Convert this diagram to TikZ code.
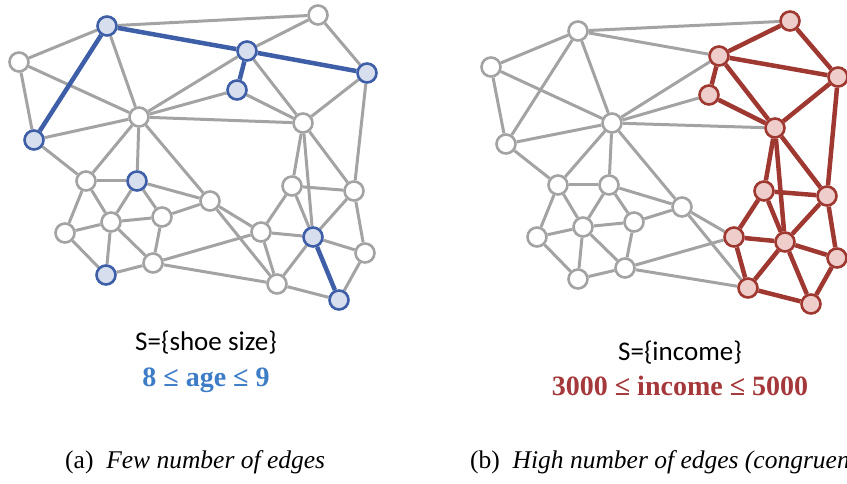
\documentclass[tikz,border=0pt]{standalone}
\usepackage{fontspec}
\setmainfont{Liberation Serif}
\newfontfamily\calib{Carlito}
\definecolor{edgegray}{HTML}{A3A3A3}
\definecolor{bluedge}{HTML}{3E5FA8}
\definecolor{bluefill}{HTML}{D7DFEF}
\definecolor{rededge}{HTML}{A03832}
\definecolor{redfill}{HTML}{EECDCA}
\definecolor{bluetext}{HTML}{3D7CC6}
\definecolor{redtext}{HTML}{A5383A}
\pgfdeclarelayer{bg}\pgfsetlayers{bg,main}
\begin{document}
\begin{tikzpicture}[x=1pt,y=-1pt,
 vtx/.style={circle,draw=edgegray,fill=white,line width=2.6pt,minimum size=19pt,inner sep=0pt},
 bvtx/.style={vtx,draw=bluedge,fill=bluefill},
 rvtx/.style={vtx,draw=rededge,fill=redfill},
 gedge/.style={draw=edgegray,line width=3pt},
 bedge/.style={draw=bluedge,line width=4.5pt},
 redgeline/.style={draw=rededge,line width=4.5pt}]
\useasboundingbox (0,0) rectangle (847,484);
% ---------- left graph ----------
\node[bvtx] (La) at (107,26) {};
\node[vtx]  (Lb) at (318,15) {};
\node[vtx]  (Lc) at (19,62) {};
\node[bvtx] (Ld) at (247,51) {};
\node[bvtx] (Le) at (367,73) {};
\node[bvtx] (Lf) at (237,90) {};
\node[vtx]  (Lg) at (139,117) {};
\node[vtx]  (Lh) at (303,123) {};
\node[bvtx] (Li) at (34,140) {};
\node[vtx]  (Lj) at (86,181) {};
\node[bvtx] (Lk) at (137,181) {};
\node[vtx]  (Ll) at (210,201) {};
\node[vtx]  (Lm) at (292,186) {};
\node[vtx]  (Ln) at (354,191) {};
\node[vtx]  (Lo) at (162,217) {};
\node[vtx]  (Lp) at (111,222) {};
\node[vtx]  (Lq) at (65,233) {};
\node[vtx]  (Lr) at (261,232) {};
\node[bvtx] (Ls) at (313,237) {};
\node[vtx]  (Lt) at (365,253) {};
\node[bvtx] (Lu) at (106,275) {};
\node[vtx]  (Lv) at (153,263) {};
\node[vtx]  (Lw) at (277,284) {};
\node[bvtx] (Lx) at (339,300) {};
% ---------- right graph ----------
\node[vtx]  (Ra) at (578,31) {};
\node[rvtx] (Rb) at (790,21) {};
\node[vtx]  (Rc) at (491,67) {};
\node[rvtx] (Rd) at (719,56) {};
\node[rvtx] (Re) at (838,77) {};
\node[rvtx] (Rf) at (709,95) {};
\node[vtx]  (Rg) at (612,123) {};
\node[rvtx] (Rh) at (775,128) {};
\node[vtx]  (Ri) at (506,144) {};
\node[vtx]  (Rj) at (558,185) {};
\node[vtx]  (Rk) at (609,185) {};
\node[vtx]  (Rl) at (682,207) {};
\node[rvtx] (Rm) at (764,191) {};
\node[rvtx] (Rn) at (827,196) {};
\node[vtx]  (Ro) at (634,222) {};
\node[vtx]  (Rp) at (583,227) {};
\node[vtx]  (Rq) at (537,237) {};
\node[rvtx] (Rr) at (734,237) {};
\node[rvtx] (Rs) at (785,242) {};
\node[rvtx] (Rt) at (837,258) {};
\node[vtx]  (Ru) at (578,279) {};
\node[vtx]  (Rv) at (625,268) {};
\node[rvtx] (Rw) at (748,288) {};
\node[rvtx] (Rx) at (811,304) {};
\begin{pgfonlayer}{bg}
\foreach \u/\v in {a/b,a/c,a/g,b/d,b/e,d/g,d/h,f/g,f/h,g/h,e/h,e/n,c/g,c/i,i/g,i/j,g/j,g/k,g/l,j/k,j/q,j/p,k/p,k/o,k/l,p/o,p/q,p/u,p/v,o/l,o/v,q/u,u/v,v/r,v/w,l/r,l/w,h/m,h/s,h/n,m/n,m/s,m/r,n/s,n/t,s/t,r/s,r/w,s/w,w/x,t/x}
  \draw[gedge] (L\u) -- (L\v);
\foreach \u/\v in {a/d,a/i,d/e,d/f,s/x}
  \draw[bedge] (L\u) -- (L\v);
\foreach \u/\v in {a/b,a/c,a/d,a/g,a/i,d/g,f/g,g/h,c/g,c/i,i/g,i/j,g/j,g/k,g/l,j/k,j/q,j/p,k/p,k/o,k/l,p/o,p/q,p/u,p/v,o/l,o/v,q/u,u/v,v/r,v/w,l/r,l/w}
  \draw[gedge] (R\u) -- (R\v);
\foreach \u/\v in {b/d,b/e,d/e,d/f,d/h,f/h,e/h,e/n,h/m,h/s,h/n,m/n,m/s,m/r,n/s,n/t,s/t,r/s,r/w,s/w,s/x,w/x,t/x}
  \draw[redgeline] (R\u) -- (R\v);
\end{pgfonlayer}
% ---------- texts ----------
\node[anchor=base,inner sep=0pt,font=\calib\fontsize{27}{30}\selectfont] (lset) at (206,350) {S=\{shoe size\}};
\node[anchor=base,inner sep=0pt,font=\bfseries\fontsize{28}{30}\selectfont,text=bluetext] (lcond) at (206,386) {8 ≤ age ≤ 9};
\node[anchor=base,inner sep=0pt,font=\calib\fontsize{27}{30}\selectfont] (rset) at (680,360) {S=\{income\}};
\node[anchor=base,inner sep=0pt,font=\bfseries\fontsize{28}{30}\selectfont,text=redtext] (rcond) at (680,395) {3000 ≤ income ≤ 5000};
\node[anchor=base west,inner sep=0pt,font=\fontsize{25.5}{30}\selectfont] (capa) at (65,468) {(a)\hspace{0.5em}\textit{Few number of edges}};
\node[anchor=base west,inner sep=0pt,font=\fontsize{25.5}{30}\selectfont] (capb) at (470,468) {(b)\hspace{0.5em}\textit{High number of edges (congruen}};
\end{tikzpicture}
\end{document}
